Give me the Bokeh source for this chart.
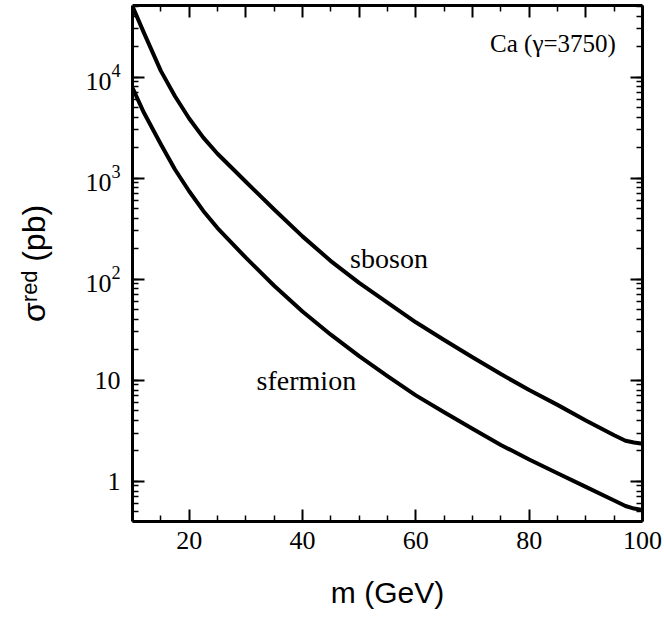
import numpy as np
from bokeh.plotting import figure
from bokeh.models import (Range1d, LogAxis, LinearAxis, FixedTicker, LogTicker,
                          LogTickFormatter, CustomJSTickFormatter, Label, ColumnDataSource)
from bokeh.core.properties import value
from bokeh.embed import file_html
from bokeh.resources import INLINE

# ---- data ----
mass = [10, 12, 15, 17.5, 20, 22.5, 25, 30, 35, 40, 45, 50, 55, 60, 65, 70, 75, 80, 85, 90,
        95, 97, 98.5, 100]
sboson = [50000, 27500, 11500, 6450, 3890, 2510, 1740, 920, 489, 265, 151, 92, 58.6, 37.4,
          25.0, 16.9, 11.5, 8.0, 5.7, 4.0, 2.85, 2.52, 2.42, 2.35]
sfermion = [7800, 4450, 2160, 1216, 741, 473, 320, 163, 86.1, 47.9, 28.2, 17.3, 11.0, 7.08,
            4.82, 3.31, 2.29, 1.64, 1.20, 0.881, 0.646, 0.569, 0.537, 0.519]

x_major = [20, 40, 60, 80, 100]
x_minor = [15, 25, 30, 35, 45, 50, 55, 65, 70, 75, 85, 90, 95]
top_major = [20, 30, 40, 50, 60, 70, 80, 90, 100]
top_minor = [15, 25, 35, 45, 55, 65, 75, 85, 95]

src = ColumnDataSource(dict(m=mass, sb=sboson, sf=sfermion))

p = figure(width=664, height=619, y_axis_type="log",
           x_range=Range1d(10, 100), y_range=Range1d(0.4, 5.1e4),
           output_backend="svg", toolbar_location=None,
           min_border_left=132, min_border_right=22, min_border_top=5, min_border_bottom=98)
p.outline_line_color = None
p.xgrid.visible = False
p.ygrid.visible = False
p.background_fill_color = "white"
p.border_fill_color = "white"

p.line("m", "sb", source=src, line_width=4, line_color="black", line_join="round")
p.line("m", "sf", source=src, line_width=4, line_color="black", line_join="round")

def style(ax):
    ax.axis_line_width = 3
    ax.axis_line_color = "black"
    ax.major_tick_line_width = 2
    ax.minor_tick_line_width = 1.5
    ax.major_tick_in = 12
    ax.major_tick_out = 0
    ax.minor_tick_in = 6
    ax.minor_tick_out = 0
    ax.major_label_text_font = "Liberation Serif"
    ax.major_label_text_font_size = "26px"
    ax.major_label_text_color = "black"

xa = p.xaxis[0]
xa.ticker = FixedTicker(ticks=x_major, minor_ticks=x_minor)
style(xa)
xa.major_label_standoff = 10
xa.axis_label = "m (GeV)"
xa.axis_label_text_font = "Liberation Sans"
xa.axis_label_text_font_size = "30px"
xa.axis_label_text_font_style = "normal"
xa.axis_label_text_color = "black"
xa.axis_label_standoff = 24

ya = p.yaxis[0]
ya.ticker = LogTicker(num_minor_ticks=10)
ya.formatter = LogTickFormatter()
ya.major_label_overrides = {1: "1", 10: "10"}
style(ya)
ya.major_label_standoff = 12
ya.axis_label = "σʳᵉᵈ (pb)"
ya.axis_label_text_font = "Liberation Sans"
ya.axis_label_text_font_size = "32px"
ya.axis_label_text_font_style = "normal"
ya.axis_label_text_color = "black"
ya.axis_label_standoff = 30

empty = CustomJSTickFormatter(code="return ''")
ra = LogAxis(ticker=LogTicker(num_minor_ticks=10), formatter=empty)
style(ra)
p.add_layout(ra, "right")
ta = LinearAxis(ticker=FixedTicker(ticks=top_major, minor_ticks=top_minor), formatter=empty)
style(ta)
p.add_layout(ta, "above")

serif = "Liberation Serif"
p.add_layout(Label(x=48.4, y=161, text="sboson", text_font=serif, text_font_size="28px",
                   text_baseline="alphabetic", text_align="left", text_color="black"))
p.add_layout(Label(x=31.9, y=10, text="sfermion", text_font=serif, text_font_size="28px",
                   text_baseline="alphabetic", text_align="left", text_color="black"))
p.add_layout(Label(x=95.3, y=2.17e4, text="Ca (γ=3750)", text_font=serif, text_font_size="25px",
                   text_baseline="alphabetic", text_align="right", text_color="black"))

open("out.html", "w").write(file_html(p, INLINE))
